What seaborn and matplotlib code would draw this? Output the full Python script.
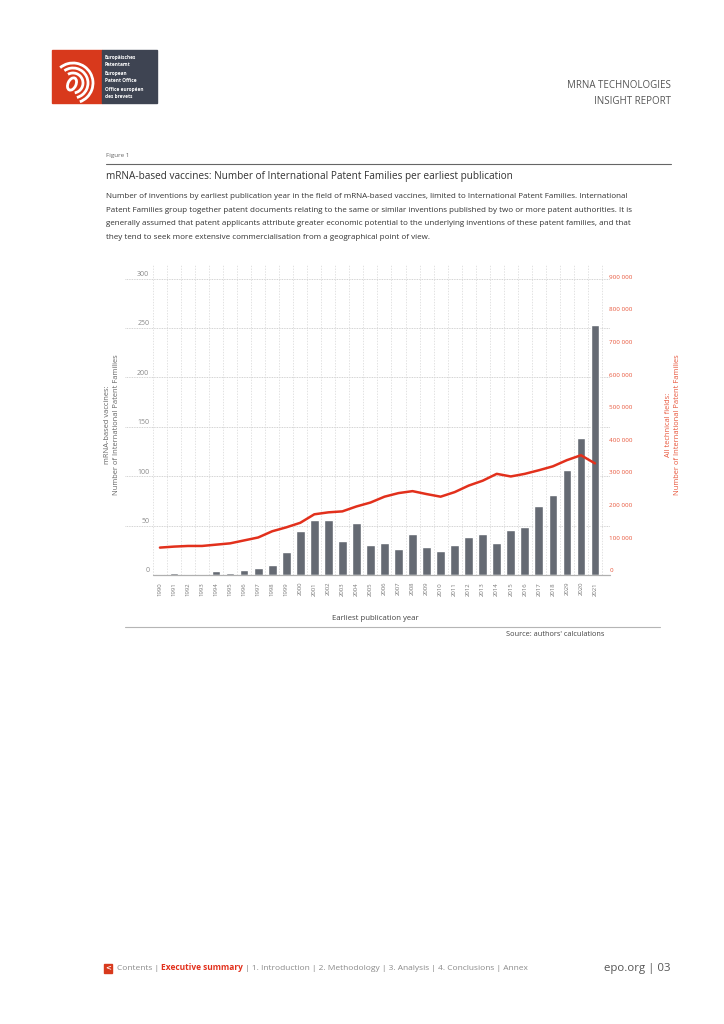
import numpy as np
import matplotlib
matplotlib.use('Agg')
import matplotlib.pyplot as plt
from matplotlib.patches import Rectangle, Arc, Ellipse
import seaborn as sns

sns.set_style("white")
plt.rcParams['font.family'] = ['Open Sans', 'DejaVu Sans']

# data
years = list(range(1990, 2022))
year_labels = [str(y) for y in years]
year_labels[years.index(2019)] = '2029'  # typo kept as printed in the report
mrna_ipf = [1, 2, 1, 1, 4, 2, 5, 7, 10, 23, 45, 56, 56, 34, 53, 30,
            32, 26, 42, 28, 24, 30, 38, 42, 32, 46, 49, 70, 81, 106, 139, 253]
all_fields_ipf = [84000, 87000, 89000, 89000, 93000, 97000, 106000, 115000,
                  134000, 146000, 160000, 186000, 192000, 195000, 210000,
                  222000, 240000, 251000, 257000, 248000, 240000, 254000,
                  274000, 289000, 310000, 302000, 310000, 321000, 333000,
                  352000, 367000, 342000]
left_ticks = [0, 50, 100, 150, 200, 250, 300]
right_ticks = [0, 100000, 200000, 300000, 400000, 500000, 600000,
               700000, 800000, 900000]

BAR = '#656a73'
RED = '#e2301c'
RED_TXT = '#e8553a'
GREY_TXT = '#8a8a8a'
W, H = 724, 1024

fig = plt.figure(figsize=(W / 100, H / 100), dpi=100)
fig.patch.set_facecolor('white')

# page layer in pixel coordinates
pa = fig.add_axes([0, 0, 1, 1], zorder=0)
pa.set_xlim(0, W)
pa.set_ylim(H, 0)
pa.axis('off')

# logo
pa.add_patch(Rectangle((52, 50), 50, 53, color='#d8391c'))
pa.add_patch(Rectangle((102, 50), 55, 53, color='#3e4452'))
cx, cy = 73, 83
pa.add_patch(Ellipse((cx - 1, cy + 1), 8, 13, angle=25, fill=False, ec='white', lw=2))
for r, t1, t2 in [(10, -120, 80), (15, -125, 75), (20, -130, 70)]:
    pa.add_patch(Arc((cx, cy), 2 * r, 2 * r, theta1=t1, theta2=t2, ec='white', lw=2))
for i, line in enumerate(['Europäisches', 'Patentamt', 'European', 'Patent Office',
                          'Office européen', 'des brevets']):
    yy = [58, 64, 74, 80, 90, 96][i]
    pa.text(105, yy, line, color='white', fontsize=3.4, va='center', fontweight='bold')

pa.text(671, 86, 'MRNA TECHNOLOGIES', ha='right', va='center', fontsize=7, color='#555555')
pa.text(671, 101, 'INSIGHT REPORT', ha='right', va='center', fontsize=7, color='#555555')

# figure heading
pa.text(106, 156, 'Figure 1', fontsize=4.5, color='#666666', va='center')
pa.plot([106, 671], [164, 164], color='#666666', lw=0.8)
pa.text(106, 176, 'mRNA-based vaccines: Number of International Patent Families per earliest publication',
        fontsize=7.2, color='#333333', va='center')
para = [
    'Number of inventions by earliest publication year in the field of mRNA-based vaccines, limited to International Patent Families. International',
    'Patent Families group together patent documents relating to the same or similar inventions published by two or more patent authorities. It is',
    'generally assumed that patent applicants attribute greater economic potential to the underlying inventions of these patent families, and that',
    'they tend to seek more extensive commercialisation from a geographical point of view.',
]
for i, line in enumerate(para):
    pa.text(106, 197 + i * 13.4, line, fontsize=5.75, color='#333333', va='center')

# chart
ax = fig.add_axes([125 / W, 1 - 575 / H, 485 / W, 310 / H], zorder=2)
ax.set_facecolor('none')
n = len(years)
sns.barplot(x=years, y=mrna_ipf, color=BAR, saturation=1, width=0.62, ax=ax, zorder=3)
ax2 = ax.twinx()
sns.lineplot(x=np.arange(n), y=all_fields_ipf, color=RED, linewidth=1.8, ax=ax2)

ax.set_xlim(-2.49, 32.07)
ax.set_ylim(0, 313.8)
ax2.set_ylim(0, 950000)

for a in (ax, ax2):
    for s in a.spines.values():
        s.set_visible(False)
    a.set_ylabel('')
    a.set_xlabel('')
    a.set_yticks([])

# grid
for v in left_ticks[1:]:
    ax.axhline(v, color='#c4c4c4', lw=0.6, ls=(0, (1, 1)), zorder=1)
ax.axhline(0, color='#c4c4c4', lw=0.6, ls=(0, (1, 1)), zorder=1)
ax.plot([-0.5, 32.07], [0, 0], color='#b0b0b0', lw=0.9, zorder=4, clip_on=False)
bounds = np.arange(-0.5, n, 1.0)
ax.vlines(bounds, 0, 313.8, color='#d6d6d6', lw=0.5, ls=(0, (2, 2)), zorder=1)

for v in left_ticks:
    ax.annotate(str(v), xy=(0.05, v), xycoords=('axes fraction', 'data'),
                xytext=(0, 3), textcoords='offset points', ha='right', va='center',
                fontsize=5, color=GREY_TXT)
for v in right_ticks:
    lab = '0' if v == 0 else f'{v // 1000} 000'
    ax2.annotate(lab, xy=(1.0, v), xycoords=('axes fraction', 'data'),
                 xytext=(-0.5, 3), textcoords='offset points', ha='left', va='center',
                 fontsize=4.5, color=RED_TXT)

ax.set_xticks(np.arange(n))
ax.set_xticklabels(year_labels, rotation=90, fontsize=4.3, color='#777777')
ax.set_xticks(bounds, minor=True)
ax.tick_params(axis='x', which='major', length=0, pad=5)
ax.tick_params(axis='x', which='minor', length=2.5, width=0.5, color='#b0b0b0')

# axis titles
pa.text(112, 425, 'mRNA-based vaccines:\nNumber of International Patent Families', rotation=90,
        ha='center', va='center', fontsize=5.4, color='#666666', linespacing=1.5)
pa.text(673, 425, 'All technical fields:\nNumber of International Patent Families', rotation=90,
        ha='center', va='center', fontsize=5.4, color=RED_TXT, linespacing=1.5)
pa.text(375, 618, 'Earliest publication year', ha='center', va='center', fontsize=5.6, color='#444444')
pa.plot([125, 660], [627, 627], color='#b5b5b5', lw=0.8)
pa.text(604, 634, "Source: authors' calculations", ha='right', va='center', fontsize=5.3, color='#444444')

# footer
pa.add_patch(Rectangle((104, 964), 8, 9, color='#d8391c'))
pa.text(108, 968.5, '<', color='white', fontsize=5, fontweight='bold', ha='center', va='center',
        family='DejaVu Sans')
t1 = pa.text(117, 969, 'Contents | ', fontsize=6.0, color='#8a8a8a', va='center')
t2 = pa.annotate('Executive summary', xy=(1, 0), xycoords=t1, va='bottom',
                 fontsize=6.0, color='#e2301c', fontweight='bold')
pa.annotate(' | 1. Introduction | 2. Methodology | 3. Analysis | 4. Conclusions | Annex',
            xy=(1, 0), xycoords=t2, va='bottom', fontsize=6.0, color='#8a8a8a')
pa.text(671, 968, 'epo.org | 03', ha='right', va='center', fontsize=8.2, color='#555555')

plt.savefig('out.png', dpi=100)
plt.close()
